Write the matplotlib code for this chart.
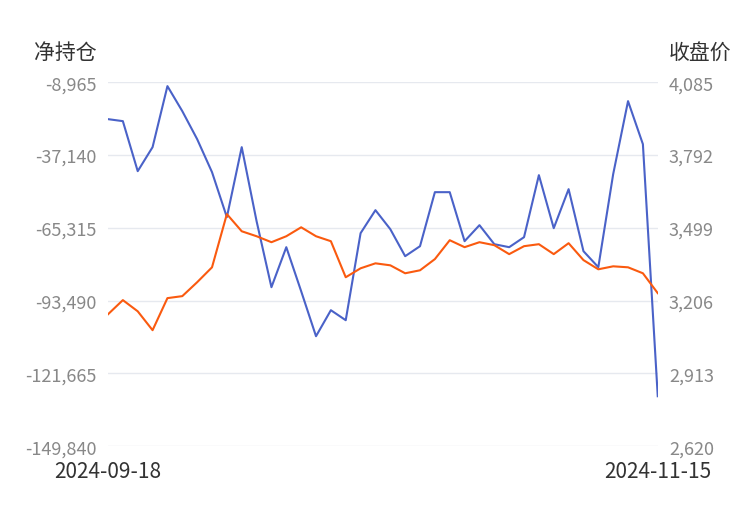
import matplotlib
matplotlib.use("Agg")
import matplotlib.pyplot as plt
import numpy as np

plt.rcParams['font.family'] = ['Noto Sans CJK SC', 'DejaVu Sans']

net_position = [-23284, -24058, -43408, -34120, -10513, -20188, -31024, -43795, -61210, -34120,
                -62758, -88300, -72820, -89848, -107263, -97201, -101071, -67402, -58501, -65854,
                -76303, -72433, -51535, -51535, -70498, -64306, -71659, -72820, -68950, -44956,
                -65467, -50374, -74368, -80560, -44569, -16318, -32959, -130483]
close_price = [3151, 3208, 3163, 3087, 3216, 3224, 3280, 3340, 3554, 3485,
               3465, 3441, 3465, 3501, 3465, 3445, 3300, 3336, 3356, 3348,
               3316, 3328, 3373, 3449, 3421, 3441, 3429, 3393, 3425, 3433,
               3393, 3437, 3369, 3332, 3344, 3340, 3316, 3236]
first_date, last_date = "2024-09-18", "2024-11-15"
left_ticks = [-8965, -37140, -65315, -93490, -121665, -149840]
right_ticks = [4085, 3792, 3499, 3206, 2913, 2620]

x = np.arange(len(net_position))
fig = plt.figure(figsize=(7.5, 5.1), dpi=100)
ax = fig.add_axes([0.144, 0.123, 0.733, 0.714])
ax2 = ax.twinx()

ax.plot(x, net_position, color="#4a62c8", lw=1.5)
ax2.plot(x, close_price, color="#fa5a0f", lw=1.5)

ax.set_ylim(left_ticks[-1], left_ticks[0])
ax2.set_ylim(right_ticks[-1], right_ticks[0])
ax.set_yticks(left_ticks)
ax.set_yticklabels([f"{v:,}" for v in left_ticks])
ax2.set_yticks(right_ticks)
ax2.set_yticklabels([f"{v:,}" for v in right_ticks])
ax.set_xlim(0, len(x) - 1)
ax.set_xticks([0, len(x) - 1])
ax.set_xticklabels([first_date, last_date], fontsize=15, color="#333333")
ax.xaxis.get_majorticklabels()[0].set_horizontalalignment("center")

ax.grid(axis="y", color="#e6e9ef", lw=1)
ax.set_axisbelow(True)
for a in (ax, ax2):
    for s in a.spines.values():
        s.set_visible(False)
    a.tick_params(length=0, labelsize=13, colors="#888888")
ax.tick_params(axis="x", labelsize=15, labelcolor="#333333", pad=10)
ax.tick_params(axis="y", pad=8)
ax2.tick_params(axis="y", pad=8)

fig.text(0.045, 0.885, "净持仓", fontsize=15, color="#333333")
fig.text(0.975, 0.885, "收盘价", fontsize=15, color="#333333", ha="right")

fig.savefig("out.png", dpi=100)
